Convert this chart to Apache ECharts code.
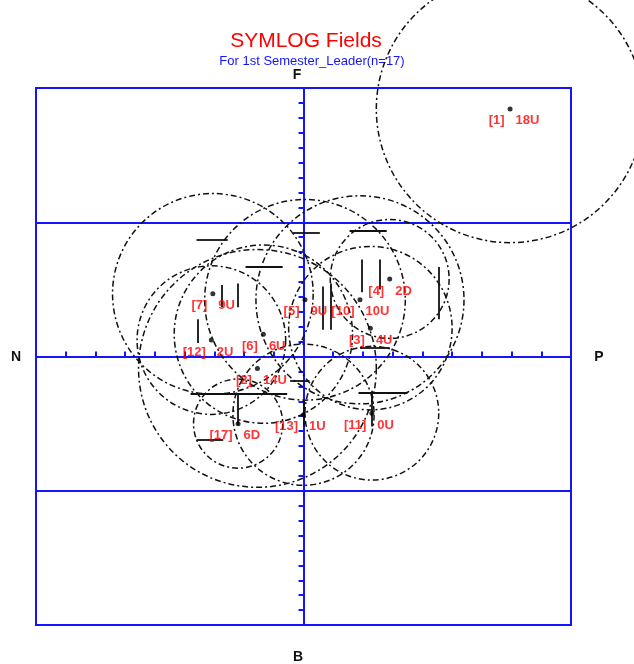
<!DOCTYPE html>
<html>
<head>
<meta charset="utf-8">
<script src="https://cdn.jsdelivr.net/npm/echarts@6/dist/echarts.min.js"></script>
<style>
  html, body { margin: 0; padding: 0; background: #ffffff; }
  #chart { width: 634px; height: 664px; }
</style>
</head>
<body>
<div id="chart"></div>
<script>
// Group members: id, P-N position, F-B position and U-D score
const memberIds = ['[1]', '[2]', '[3]', '[4]', '[5]', '[6]', '[7]', '[10]', '[11]', '[12]', '[13]', '[17]'];
const pnValues  = [13.9, -3.1, 4.5, 5.8, 0.1, -2.7, -6.1, 3.8, 4.6, -6.2, 0.0, -4.4];
const fbValues  = [16.6, -0.8, 1.9, 5.2, 3.8, 1.5, 4.2, 3.8, -3.8, 1.1, -3.9, -4.5];
const udValues  = [18, 14, 4, -2, 9, 6, 9, 10, 0, 2, 1, -6];

// Solid range bars: [pn start, fb start, pn end, fb end]
const barStartPN = [-7.2, -3.9, -5.5, -4.4, -7.1, -0.7, 1.3, 1.8, 3.9, 5.1, 9.1, 3.1, 3.8, -7.6, -4.4, -7.2, -0.9, 0.0, 3.7, 4.6];
const barStartFB = [ 7.8,  6.0,  4.8,  4.9,  2.5,  8.3, 4.7, 4.9, 6.5, 6.5, 6.0, 8.4, 0.6, -2.5, -2.5, -5.6, -1.6, -2.9, -2.4, -2.3];
const barEndPN   = [-5.1, -1.4, -5.5, -4.4, -7.1,  1.1, 1.3, 1.8, 3.9, 5.1, 9.1, 5.6, 5.8, -1.1, -4.4, -5.4, 0.4, 0.0, 7.0, 4.6];
const barEndFB   = [ 7.8,  6.0,  3.3,  3.3,  0.9,  8.3, 1.8, 1.8, 4.3, 4.5, 2.5, 8.4, 0.6, -2.5, -4.6, -5.6, -1.6, -4.7, -2.4, -4.7];

// Field scale and axis letters
const fieldMin = -18, fieldMax = 18;
const axisLetters = { left: 'N', right: 'P', top: 'F', bottom: 'B' };
const chartTitle = 'SYMLOG Fields';
const chartSubtitle = 'For 1st Semester_Leader(n=17)';

const BLUE = '#1414ff';
const RED = '#ff0000';

// U-D score shown as "18U" / "2D"
const udText = u => (u < 0 ? (-u) + 'D' : u + 'U');
// Circle size grows with U, shrinks with D
const udRadius = u => (u + 18) / 4;

const points = memberIds.map((id, i) => [pnValues[i], fbValues[i], udValues[i], id]);
const circles = memberIds.map((id, i) => [pnValues[i], fbValues[i], udRadius(udValues[i])]);
const bars = barStartPN.map((x, i) => ({ coords: [[x, barStartFB[i]], [barEndPN[i], barEndFB[i]]] }));

const chart = echarts.init(document.getElementById('chart'), null, { renderer: 'canvas' });

const labelFont = { color: RED, fontSize: 13, fontWeight: 'bold', fontFamily: 'Liberation Sans' };
const letterStyle = { fill: '#111', font: 'bold 14px "Liberation Sans"', textAlign: 'center', textVerticalAlign: 'middle' };

chart.setOption({
  backgroundColor: '#ffffff',
  animation: false,
  grid: {
    left: 36, top: 88, width: 535, height: 537,
    show: true, borderColor: BLUE, borderWidth: 2, backgroundColor: 'transparent'
  },
  xAxis: [{
    type: 'value', min: fieldMin, max: fieldMax, interval: 2,
    axisLine: { show: true, onZero: true, lineStyle: { color: BLUE, width: 2 } },
    axisTick: { show: true, inside: true, length: 5, lineStyle: { color: BLUE, width: 2 } },
    axisLabel: { show: false },
    splitLine: { show: false }
  }],
  yAxis: [{
    type: 'value', min: fieldMin, max: fieldMax, interval: 1,
    axisLine: { show: true, onZero: true, lineStyle: { color: BLUE, width: 2 } },
    axisTick: { show: true, length: 5, lineStyle: { color: BLUE, width: 2 } },
    axisLabel: { show: false },
    splitLine: { show: false }
  }, {
    type: 'value', min: fieldMin, max: fieldMax, interval: 9, position: 'right',
    axisLine: { show: false },
    axisTick: { show: false },
    axisLabel: { show: false },
    splitLine: { show: true, lineStyle: { color: BLUE, width: 2 } }
  }],
  graphic: [
    { type: 'text', x: 306, y: 41, style: { text: chartTitle, fill: RED, font: '21px "Liberation Sans"', textAlign: 'center', textVerticalAlign: 'middle' } },
    { type: 'text', x: 312, y: 61, style: { text: chartSubtitle, fill: BLUE, font: '13px "Liberation Sans"', textAlign: 'center', textVerticalAlign: 'middle' } },
    { type: 'text', x: 16, y: 357, style: Object.assign({ text: axisLetters.left }, letterStyle) },
    { type: 'text', x: 599, y: 357, style: Object.assign({ text: axisLetters.right }, letterStyle) },
    { type: 'text', x: 297, y: 75, style: Object.assign({ text: axisLetters.top }, letterStyle) },
    { type: 'text', x: 298, y: 657, style: Object.assign({ text: axisLetters.bottom }, letterStyle) }
  ],
  series: [
    {
      // U-D circles around each member
      type: 'custom',
      coordinateSystem: 'cartesian2d',
      clip: false,
      silent: true,
      z: 3,
      data: circles,
      renderItem: function (params, api) {
        const c = api.coord([api.value(0), api.value(1)]);
        const r = api.size([api.value(2), 0])[0];
        return {
          type: 'circle',
          shape: { cx: c[0], cy: c[1], r: r },
          style: { fill: 'transparent', stroke: '#111111', lineWidth: 1.5, lineDash: [6, 3, 2, 3] }
        };
      }
    },
    {
      // solid range bars
      type: 'lines',
      coordinateSystem: 'cartesian2d',
      silent: true,
      z: 4,
      lineStyle: { color: '#111111', width: 1.8, opacity: 1 },
      data: bars
    },
    {
      // member positions with the id on the left
      type: 'scatter',
      symbol: 'circle',
      symbolSize: 5,
      z: 5,
      itemStyle: { color: '#000000' },
      data: points,
      label: {
        show: true, position: 'left', distance: 3, offset: [0, 12],
        formatter: p => p.value[3], ...labelFont
      }
    },
    {
      // U-D score on the right of each member
      type: 'scatter',
      symbolSize: 5,
      z: 5,
      itemStyle: { color: 'transparent' },
      data: points,
      label: {
        show: true, position: 'right', distance: 3, offset: [0, 12],
        formatter: p => udText(p.value[2]), ...labelFont
      }
    }
  ]
});
</script>
</body>
</html>
